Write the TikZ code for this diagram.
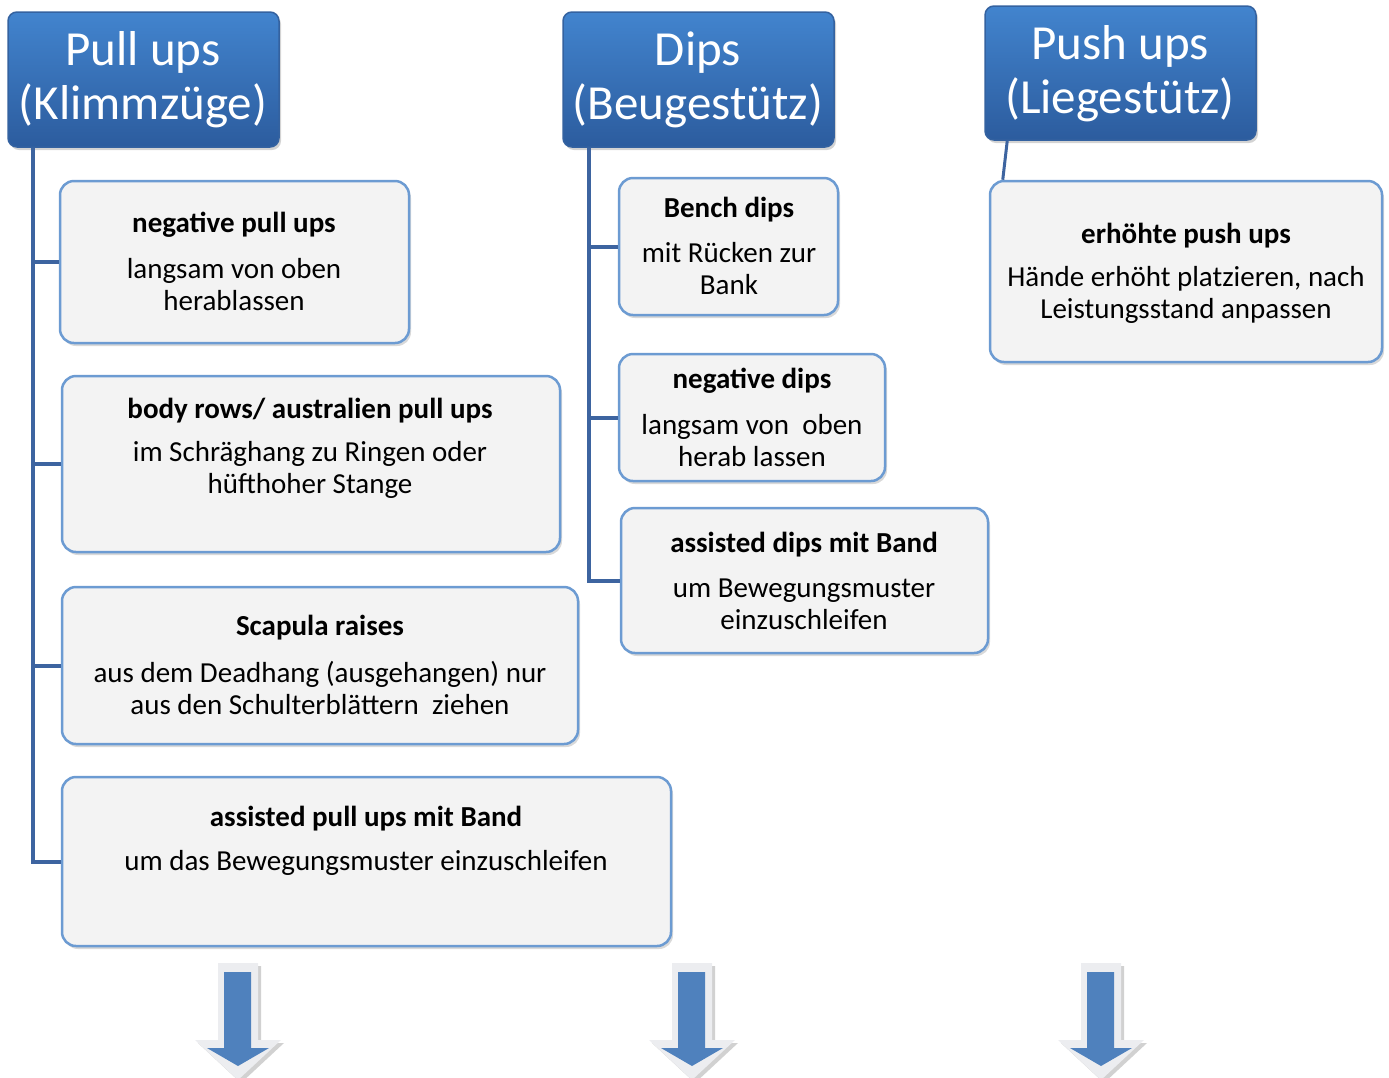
\documentclass[tikz,border=0pt]{standalone}
\usepackage{fontspec}
\setmainfont{Carlito}
\usetikzlibrary{shadows}
\definecolor{headtop}{RGB}{66,132,206}
\definecolor{headbot}{RGB}{44,92,158}
\definecolor{headrim}{RGB}{52,98,160}
\definecolor{connblue}{RGB}{61,100,160}
\definecolor{boxfill}{RGB}{243,243,243}
\definecolor{boxrim}{RGB}{108,155,210}
\definecolor{arrowblue}{RGB}{79,129,189}
\definecolor{arrowrim}{RGB}{236,237,240}
\tikzset{
  headbox/.style={draw=headrim, line width=1.5pt, rounded corners=9pt,
    top color=headtop, bottom color=headbot, inner sep=0pt,
    drop shadow={opacity=0.35, shadow xshift=2pt, shadow yshift=-3pt}},
  headtext/.style={text=white, align=center, inner sep=0pt,
    font=\fontsize{49}{54}\selectfont},
  childbox/.style={draw=boxrim, line width=2.5pt, rounded corners=14pt,
    fill=boxfill, inner sep=0pt,
    drop shadow={opacity=0.3, shadow xshift=2pt, shadow yshift=-3pt}},
  titletext/.style={inner sep=0pt, font=\fontsize{29}{32}\selectfont\bfseries},
  bodytext/.style={inner sep=0pt, align=center, font=\fontsize{29}{32}\selectfont},
  conn/.style={draw=connblue, line width=4pt},
}
\begin{document}
\begin{tikzpicture}[x=1pt, y=-1pt]
\useasboundingbox (0,0) rectangle (1389,1077);

% ---- headers
\node[headbox, minimum width=271pt, minimum height=135pt] (h1) at (143.5,79.5) {};
\node[headtext] (h1t) at (143,80) {Pull ups\\(Klimmzüge)};
\node[headbox, minimum width=271pt, minimum height=135pt] (h2) at (698.5,79.5) {};
\node[headtext] (h2t) at (698,80) {Dips\\(Beugestütz)};
\node[headbox, minimum width=271pt, minimum height=134pt] (h3) at (1120.5,73) {};
\node[headtext] (h3t) at (1120,74) {Push ups\\(Liegestütz)};

% ---- pull up variants
\node[childbox, minimum width=349pt, minimum height=162pt] (c1) at (234.5,262) {};
\node[titletext] (c1a) at (234,225) {negative pull ups};
\node[bodytext] (c1b) at (234,285) {langsam von oben\\herablassen};

\node[childbox, minimum width=498pt, minimum height=176pt] (c2) at (311,464) {};
\node[titletext] (c2a) at (310,411) {body rows/ australien pull ups};
\node[bodytext] (c2b) at (310,470) {im Schräghang zu Ringen oder\\hüfthoher Stange};

\node[childbox, minimum width=516pt, minimum height=157pt] (c3) at (320,665.5) {};
\node[titletext] (c3a) at (320,628) {Scapula raises};
\node[bodytext] (c3b) at (320,688) {aus dem Deadhang (ausgehangen) nur\\aus den Schulterblättern\ \ ziehen};

\node[childbox, minimum width=609pt, minimum height=169pt] (c4) at (366.5,861.5) {};
\node[titletext] (c4a) at (366,819) {assisted pull ups mit Band};
\node[bodytext] (c4b) at (366,863) {um das Bewegungsmuster einzuschleifen};

% ---- dip variants
\node[childbox, minimum width=219pt, minimum height=137pt] (d1) at (728.5,246.5) {};
\node[titletext] (d1a) at (729,210) {Bench dips};
\node[bodytext] (d1b) at (729,269) {mit Rücken zur\\Bank};

\node[childbox, minimum width=266pt, minimum height=127pt] (d2) at (752,417.5) {};
\node[titletext] (d2a) at (752,381) {negative dips};
\node[bodytext] (d2b) at (752,440.5) {langsam von\ \ oben\\herab lassen};

\node[childbox, minimum width=367pt, minimum height=145pt] (d3) at (804.5,580.5) {};
\node[titletext] (d3a) at (804,545) {assisted dips mit Band};
\node[bodytext] (d3b) at (804,604) {um Bewegungsmuster\\einzuschleifen};

% ---- push up variant
\node[childbox, minimum width=392pt, minimum height=181pt] (e1) at (1186,271.5) {};
\node[titletext] (e1a) at (1186,236) {erhöhte push ups};
\node[bodytext] (e1b) at (1186,295) {Hände erhöht platzieren, nach\\Leistungsstand anpassen};

% ---- connectors
\coordinate (t1) at ([xshift=26pt]h1.south west);
\coordinate (t2) at ([xshift=27pt]h2.south west);
\coordinate (t3) at ([xshift=23pt]h3.south west);
\foreach \c in {c1,c2,c3,c4} \draw[conn] (t1) |- (\c.west);
\foreach \c in {d1,d2,d3} \draw[conn] (t2) |- (\c.west);
\draw[conn, line width=3pt] (t3) -- ([xshift=14pt]e1.north west);

% ---- downward arrows
\foreach \ax in {238,692,1101}{
  \fill[black!45, opacity=0.4]
    (\ax-16,966) -- (\ax+23,966) -- (\ax+23,1043) -- (\ax+46,1043)
    -- (\ax+3,1083) -- (\ax-40,1043) -- (\ax-16,1043) -- cycle;
  \fill[arrowrim]
    (\ax-20,963) -- (\ax+20,963) -- (\ax+20,1040) -- (\ax+43,1040)
    -- (\ax,1080) -- (\ax-43,1040) -- (\ax-20,1040) -- cycle;
  \fill[arrowblue]
    (\ax-14,972) -- (\ax+13,972) -- (\ax+13,1048) -- (\ax+31,1048)
    -- (\ax,1066) -- (\ax-31,1048) -- (\ax-14,1048) -- cycle;
}
\end{tikzpicture}
\end{document}
